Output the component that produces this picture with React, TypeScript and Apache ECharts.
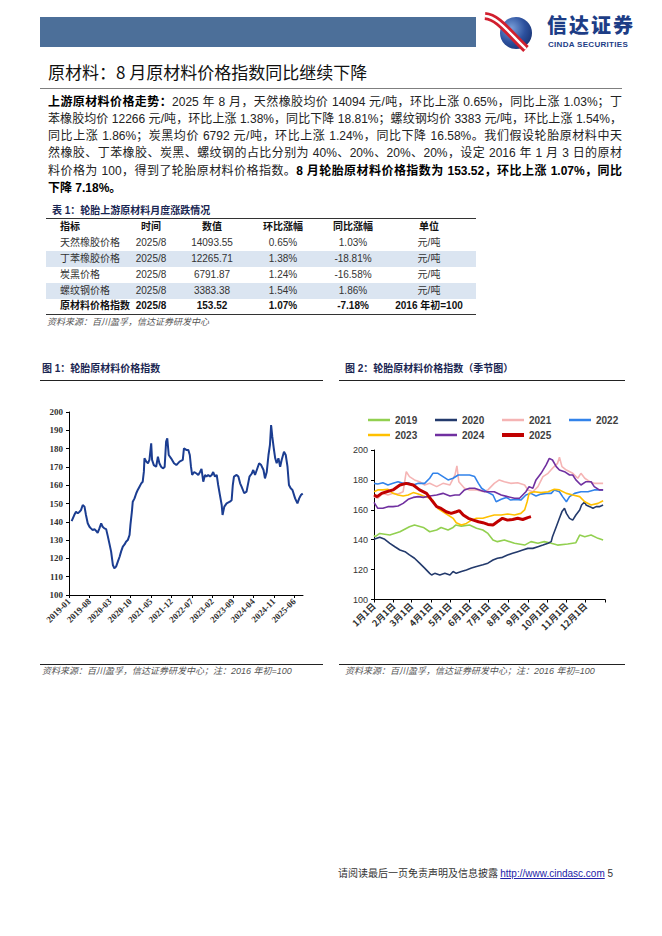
import React, { useEffect, useRef } from "react";
import * as echarts from "echarts";

// ---------- Data ----------
// Figure 1: tyre raw material price index, [months since 2019-01, index]
const idxPoints: [number, number][] = [
  [0.9, 140.4], [1.8, 143.7], [2.4, 145.5], [3.0, 144.6], [3.6, 145.5], [4.1, 146.4], [4.7, 149.2], [5.3, 148.3],
  [5.8, 143.7], [6.4, 139.2], [7.0, 137.3], [7.5, 136.4], [8.1, 135.5], [8.7, 136.0], [9.3, 135.0], [9.8, 134.0],
  [10.4, 136.4], [11.0, 139.2], [11.5, 137.3], [12.1, 136.4], [12.7, 136.0], [13.3, 131.9], [13.8, 128.2], [14.4, 123.7],
  [15.0, 116.4], [15.5, 114.6], [16.1, 115.5], [16.7, 118.2], [17.3, 120.9], [17.8, 123.7], [18.4, 126.4], [19.0, 127.6],
  [19.5, 129.1], [20.1, 130.0], [20.7, 132.8], [21.0, 138.3], [21.5, 145.5], [21.8, 151.0], [22.4, 152.8], [23.0, 155.6],
  [23.5, 157.4], [24.1, 159.2], [24.7, 161.0], [25.2, 161.9], [25.6, 167.4], [25.8, 174.7], [26.4, 172.9], [27.0, 172.0],
  [27.5, 173.8], [28.1, 182.9], [28.4, 173.8], [29.0, 171.0], [29.8, 170.1], [30.4, 175.6], [30.9, 172.0], [31.5, 170.1],
  [32.1, 169.2], [32.7, 170.0], [33.2, 183.8], [33.6, 185.6], [34.1, 176.5], [34.9, 174.7], [35.9, 172.0], [36.7, 171.0],
  [37.8, 172.9], [38.9, 173.8], [39.3, 180.2], [40.1, 179.3], [40.8, 179.2], [41.3, 176.5], [41.7, 170.1], [42.1, 165.6],
  [42.8, 167.2], [43.6, 166.4], [44.2, 165.6], [44.8, 167.2], [45.3, 168.9], [45.9, 161.9], [46.5, 165.6], [47.0, 164.7],
  [47.6, 165.6], [48.2, 164.7], [48.8, 165.6], [49.3, 167.2], [49.9, 164.7], [50.5, 165.6], [51.0, 160.1], [51.6, 154.6],
  [52.2, 149.2], [52.5, 143.7], [53.1, 148.3], [53.9, 150.1], [55.0, 151.0], [55.6, 151.8], [56.0, 160.1], [56.4, 164.7],
  [57.3, 165.6], [57.9, 164.7], [58.5, 161.0], [59.0, 159.2], [59.9, 155.6], [60.7, 156.5], [61.7, 164.7], [62.5, 166.4],
  [63.0, 168.3], [63.6, 165.6], [64.2, 168.3], [65.0, 172.0], [65.7, 171.0], [66.5, 168.3], [67.0, 163.7], [67.6, 167.2],
  [68.2, 176.5], [68.7, 182.0], [69.1, 192.9], [69.5, 186.5], [70.0, 180.2], [70.5, 174.7], [71.0, 172.0], [71.6, 174.7],
  [72.2, 170.1], [72.7, 173.8], [73.5, 178.3], [74.1, 176.5], [74.7, 170.1], [75.2, 160.1], [75.8, 158.3], [76.4, 157.4],
  [77.3, 152.8], [78.1, 150.1], [78.7, 152.8], [79.3, 154.6], [79.9, 155.5],
];
const idxTickLabels = [
  "2019-01", "2019-08", "2020-03", "2020-10", "2021-05", "2021-12",
  "2022-07", "2023-02", "2023-09", "2024-04", "2024-11", "2025-06",
];

// Figure 2: seasonal chart, [day of year, index]
const seasonNames = ["2019", "2020", "2021", "2022", "2023", "2024", "2025"];
const s2019: [number, number][] = [
  [0, 143], [2, 142], [9, 144.2], [25, 143.1], [41, 145.3], [56, 148.7], [64, 149.8], [78, 148.2], [88, 145.3],
  [99, 146.5], [106, 148.2], [117, 146.5], [125, 148.2], [129, 149.8], [138, 149.1], [151, 149.8], [162, 147.6],
  [172, 146.5], [180, 144.2], [188, 139.8], [195, 138.7], [206, 139.8], [222, 137.6], [238, 136.4], [248, 138.7],
  [259, 137.6], [269, 138.7], [280, 137.6], [290, 136.4], [306, 137.1], [319, 138], [325, 143.1], [333, 142],
  [343, 143.1], [354, 140.9], [362, 139.8],
];
const s2020: [number, number][] = [
  [0, 140.3], [9, 141.6], [17, 140.3], [25, 137.6], [33, 135.3], [41, 133.1], [49, 132], [56, 129.8], [64, 127.6],
  [72, 124.3], [80, 121], [88, 117.5], [91, 116.4], [96, 117.5], [104, 116.4], [112, 117.5], [120, 116.4],
  [125, 118.7], [130, 117.5], [138, 118.7], [146, 119.8], [154, 121], [162, 122.1], [172, 123.2], [180, 124.3],
  [188, 126.4], [195, 127.6], [203, 128.2], [211, 129.8], [219, 130.9], [227, 132], [235, 133.1], [243, 134.2],
  [251, 134.2], [259, 135.3], [267, 136.4], [275, 137.6], [280, 138.7], [282, 142], [288, 148.7], [293, 154.3],
  [297, 158.8], [301, 161], [304, 157.6], [309, 154.3], [314, 153.1], [319, 156.5], [325, 159.9], [328, 163.2],
  [333, 165.4], [335, 163.2], [341, 162.1], [346, 161], [351, 162.1], [356, 162.1], [362, 163.2],
];
const s2021: [number, number][] = [
  [0, 168.8], [6, 167.7], [14, 171], [22, 169.9], [30, 171], [38, 170.6], [46, 172.1], [51, 185.5], [56, 182.2],
  [64, 180], [72, 178.8], [80, 176.6], [88, 177.7], [99, 175.5], [109, 177.7], [120, 176.6], [128, 183.3],
  [131, 189.4], [134, 178.8], [143, 174.4], [151, 173.3], [162, 173.3], [172, 172.2], [180, 173.3], [190, 177.7],
  [198, 180], [206, 178.8], [216, 177.7], [227, 178.1], [238, 176.6], [243, 173.3], [251, 172.1], [259, 175.5],
  [267, 182.2], [275, 184.4], [282, 187.8], [290, 191.1], [293, 195.1], [297, 188.9], [304, 186.6], [314, 184.4],
  [322, 181.1], [327, 184.4], [333, 181.1], [341, 178.8], [348, 177.7], [362, 177.7],
];
const s2022: [number, number][] = [
  [0, 177.7], [6, 177.3], [14, 178.1], [22, 176.6], [30, 177.7], [38, 178.8], [46, 177.7], [54, 178.1], [62, 176.6],
  [70, 177.7], [80, 177.7], [88, 181.1], [93, 184.4], [101, 184.4], [109, 182.2], [117, 180], [125, 181.1],
  [133, 183.3], [141, 183.3], [151, 183.3], [159, 182.2], [165, 177.7], [170, 174.4], [178, 172.1], [183, 171],
  [188, 169.9], [193, 165.4], [201, 167], [209, 168.3], [216, 166.5], [224, 167], [232, 166.5], [240, 169.9],
  [248, 171], [256, 169.2], [264, 170.5], [272, 171], [280, 171], [285, 173.3], [293, 172.1], [298, 168.8],
  [304, 165.4], [309, 168.8], [317, 171], [327, 172.1], [338, 172.1], [348, 173.3], [362, 173.3],
];
const s2023: [number, number][] = [
  [0, 172.1], [6, 173.3], [14, 173.3], [22, 173.7], [30, 171], [38, 169.9], [46, 169.2], [54, 169.9], [62, 171.5],
  [70, 170.5], [78, 169.2], [85, 168.3], [93, 166.5], [101, 160.9], [109, 158.7], [117, 156.5], [125, 154.3],
  [130, 151.4], [138, 149.8], [146, 150.9], [154, 153.1], [162, 154.3], [172, 154.3], [180, 155.4], [190, 156.5],
  [201, 156.5], [211, 157.2], [222, 156.5], [232, 157.6], [238, 159.9], [242, 165.4], [245, 171], [253, 172.1],
  [264, 171.5], [275, 172.1], [285, 173.7], [293, 173.3], [304, 171], [314, 169.9], [325, 168.8], [333, 165.4],
  [343, 163.2], [354, 164.3], [362, 166.1],
];
const s2024: [number, number][] = [
  [0, 165], [6, 161], [14, 161], [22, 162.1], [30, 162.1], [38, 162.5], [46, 164.3], [54, 167], [62, 168.3],
  [70, 168.8], [78, 168.3], [88, 169.2], [99, 169.9], [109, 171], [120, 169.2], [128, 169.9], [135, 169.9],
  [143, 173.3], [151, 174.4], [159, 174.4], [167, 173.3], [175, 172.1], [183, 172.1], [190, 172.1], [201, 169.9],
  [211, 168.8], [222, 167.7], [230, 167.7], [235, 169.9], [240, 172.1], [245, 175.5], [251, 174.4], [256, 180],
  [264, 184.4], [272, 190], [277, 194.4], [282, 193.3], [288, 188.9], [293, 186.6], [301, 185.5], [309, 183.3],
  [314, 183.3], [319, 180], [327, 176.6], [335, 178.8], [343, 178.8], [348, 175.5], [356, 173.3], [362, 173.3],
];
const s2025: [number, number][] = [
  [0, 169.9], [5, 168.8], [12, 171], [20, 172.1], [30, 173.3], [41, 176.6], [51, 177.7], [62, 176.6], [72, 173.3],
  [83, 171], [91, 166.5], [99, 162.1], [106, 160.9], [114, 158.7], [122, 157.6], [130, 158.7], [135, 159.4],
  [141, 156.5], [149, 154.3], [157, 153.1], [165, 152], [172, 151.4], [180, 150.2], [188, 149.8], [195, 152],
  [203, 154.3], [211, 153.1], [219, 153.5], [227, 154.3], [235, 153.5], [243, 154.8], [248, 155.4],
];
const seasonData = [s2019, s2020, s2021, s2022, s2023, s2024, s2025];
const monthStartDays = [0, 31, 59, 90, 120, 151, 181, 212, 243, 273, 304, 334];
const monthLabels = [
  "1月1日", "2月1日", "3月1日", "4月1日", "5月1日", "6月1日",
  "7月1日", "8月1日", "9月1日", "10月1日", "11月1日", "12月1日",
];

// Table 1
const tableHeaders = ["指标", "时间", "数值", "环比涨幅", "同比涨幅", "单位"];
const tableRows = [
  ["天然橡胶价格", "2025/8", "14093.55", "0.65%", "1.03%", "元/吨"],
  ["丁苯橡胶价格", "2025/8", "12265.71", "1.38%", "-18.81%", "元/吨"],
  ["炭黑价格", "2025/8", "6791.87", "1.24%", "-16.58%", "元/吨"],
  ["螺纹钢价格", "2025/8", "3383.38", "1.54%", "1.86%", "元/吨"],
  ["原材料价格指数", "2025/8", "153.52", "1.07%", "-7.18%", "2016 年初=100"],
];

// ---------- Styles ----------
const seasonColors = ["#92d050", "#233a6c", "#f5b4b4", "#3283ea", "#ffc000", "#7030a0", "#c00000"];
const SANS = '"Liberation Sans", "Noto Sans CJK SC", sans-serif';
const CJK = '"Noto Sans CJK SC", "Liberation Sans", sans-serif';

function Chart1() {
  const ref = useRef<HTMLDivElement>(null);
  useEffect(() => {
    const chart = echarts.init(ref.current!, null, { renderer: "svg" });
    const lbl = {
      fontFamily: '"Liberation Serif", serif',
      fontWeight: "bold" as const,
      fontSize: 9,
      color: "#333",
    };
    chart.setOption({
      animation: false,
      grid: { left: 29, top: 27, width: 234, height: 183 },
      xAxis: {
        type: "value",
        min: 0,
        max: 80,
        interval: 7,
        axisLine: { lineStyle: { color: "#000", width: 1 } },
        axisTick: { show: true, length: 3, lineStyle: { color: "#000" } },
        splitLine: { show: false },
        axisLabel: {
          ...lbl,
          rotate: 45,
          margin: 5,
          showMaxLabel: false,
          formatter: (v: number) => (v % 7 === 0 ? idxTickLabels[v / 7] ?? "" : ""),
        },
      },
      yAxis: {
        type: "value",
        min: 100,
        max: 200,
        interval: 10,
        axisLine: { show: true, lineStyle: { color: "#000", width: 1 } },
        axisTick: { show: true, length: 3, lineStyle: { color: "#000" } },
        splitLine: { show: false },
        axisLabel: { ...lbl, margin: 6 },
      },
      series: [
        {
          type: "line",
          data: idxPoints,
          symbol: "none",
          lineStyle: { color: "#1b3d91", width: 2 },
        },
      ],
    });
    return () => chart.dispose();
  }, []);
  return <div ref={ref} style={{ position: "absolute", left: 40, top: 385, width: 285, height: 275 }} />;
}

function Chart2() {
  const ref = useRef<HTMLDivElement>(null);
  useEffect(() => {
    const chart = echarts.init(ref.current!, null, { renderer: "svg" });
    const legendText = { fontSize: 10, fontWeight: "bold" as const, color: "#404040", fontFamily: SANS };
    const legends = seasonNames.map((name, i) => ({
      top: i < 4 ? 15 : 30,
      left: 28 + (i % 4) * 67,
      icon: "rect",
      itemWidth: 22,
      itemHeight: name === "2025" ? 4 : 2.5,
      textStyle: legendText,
      data: [name],
    }));
    chart.setOption({
      animation: false,
      legend: legends,
      grid: { left: 39, top: 55, width: 231, height: 149.5 },
      xAxis: {
        type: "value",
        min: 0,
        max: 365,
        axisLine: { lineStyle: { color: "#000", width: 1 } },
        axisTick: { show: true, length: 3, customValues: [...monthStartDays, 365], lineStyle: { color: "#000" } },
        splitLine: { show: false },
        axisLabel: {
          customValues: monthStartDays,
          rotate: 45,
          margin: 5,
          fontSize: 9,
          fontWeight: "bold",
          color: "#333",
          fontFamily: CJK,
          formatter: (v: number) => {
            const i = monthStartDays.indexOf(v);
            return i >= 0 ? monthLabels[i] : "";
          },
        },
      },
      yAxis: {
        type: "value",
        min: 100,
        max: 200,
        interval: 20,
        axisLine: { show: true, lineStyle: { color: "#000", width: 1 } },
        axisTick: { show: true, length: 3, lineStyle: { color: "#000" } },
        splitLine: { show: false },
        axisLabel: { fontSize: 9, color: "#333", fontFamily: SANS, margin: 6 },
      },
      series: seasonNames.map((name, i) => ({
        name,
        type: "line",
        data: seasonData[i],
        symbol: "none",
        lineStyle: { color: seasonColors[i], width: name === "2025" ? 3 : 1.6 },
        itemStyle: { color: seasonColors[i] },
        z: name === "2025" ? 5 : 2,
      })),
    });
    return () => chart.dispose();
  }, []);
  return <div ref={ref} style={{ position: "absolute", left: 335, top: 395, width: 290, height: 265 }} />;
}

type Seg = { t: string; b?: boolean };
const paraLines: Seg[][] = [
  [{ t: "上游原材料价格走势：", b: true }, { t: "2025 年 8 月，天然橡胶均价 14094 元/吨，环比上涨 0.65%，同比上涨 1.03%；丁" }],
  [{ t: "苯橡胶均价 12266 元/吨，环比上涨 1.38%，同比下降 18.81%；螺纹钢均价 3383 元/吨，环比上涨 1.54%，" }],
  [{ t: "同比上涨 1.86%；炭黑均价 6792 元/吨，环比上涨 1.24%，同比下降 16.58%。我们假设轮胎原材料中天" }],
  [{ t: "然橡胶、丁苯橡胶、炭黑、螺纹钢的占比分别为 40%、20%、20%、20%，设定 2016 年 1 月 3 日的原材" }],
  [{ t: "料价格为 100，得到了轮胎原材料价格指数。" }, { t: "8 月轮胎原材料价格指数为 153.52，环比上涨 1.07%，同比", b: true }],
  [{ t: "下降 7.18%。", b: true }],
];

const abs = (left: number, top: number, extra: React.CSSProperties = {}): React.CSSProperties => ({
  position: "absolute",
  left,
  top,
  ...extra,
});

export default function App() {
  const colCenters = [0, 151, 212, 283, 353, 429];
  const rowCenters = [243, 259, 275, 290.5, 306];
  return (
    <div style={{ position: "absolute", left: 0, top: 0, width: 662, height: 936, background: "#fff", fontFamily: SANS, color: "#222", overflow: "hidden" }}>
      {/* header */}
      <div style={abs(40, 17, { width: 436, height: 30, background: "#4c6f99" })} />
      <svg style={abs(482, 12)} width={60} height={40} viewBox="0 0 60 40">
        <defs>
          <radialGradient id="lg" cx="0.35" cy="0.35" r="0.8">
            <stop offset="0" stopColor="#7aa0da" />
            <stop offset="0.55" stopColor="#2d519e" />
            <stop offset="1" stopColor="#152d6b" />
          </radialGradient>
        </defs>
        <circle cx={34} cy={21} r={16} fill="url(#lg)" />
        <path d="M3 4 C 16 5, 26 20, 44 37" stroke="#d11f2e" strokeWidth={8} fill="none" />
        <path d="M3 4 C 16 5, 26 20, 44 37" stroke="#ffffff" strokeWidth={2.4} fill="none" />
      </svg>
      <div style={abs(547, 14, { fontFamily: CJK, fontWeight: 900, fontSize: 20, lineHeight: "22px", height: 22, color: "#1d3d86", letterSpacing: 2, whiteSpace: "nowrap" })}>信达证券</div>
      <div style={abs(548, 41, { fontFamily: SANS, fontWeight: "bold", fontSize: 8, lineHeight: "8px", color: "#1d3d86", whiteSpace: "nowrap", letterSpacing: 0.3 })}>CINDA SECURITIES</div>

      {/* section title */}
      <div style={abs(48, 61, { fontFamily: CJK, fontSize: 17, lineHeight: "22px", color: "#111" })}>原材料：8 月原材料价格指数同比继续下降</div>
      <div style={abs(40, 88, { width: 582, height: 1, background: "#7f7f7f" })} />

      {/* paragraph */}
      {paraLines.map((segs, i) => (
        <div
          key={i}
          style={abs(48, 93.5 + i * 17.3, {
            width: i === paraLines.length - 1 ? undefined : 574,
            fontSize: 12,
            lineHeight: "17px",
            whiteSpace: "nowrap",
            textAlign: "justify",
            textAlignLast: i === paraLines.length - 1 ? "left" : "justify",
            color: "#222",
          })}
        >
          {segs.map((s, j) => (
            <span key={j} style={{ fontWeight: s.b ? "bold" : "normal", color: s.b ? "#000" : "#222" }}>{s.t}</span>
          ))}
        </div>
      ))}

      {/* table */}
      <div style={abs(52, 204, { fontSize: 10, fontWeight: "bold", lineHeight: "14px", color: "#1a2652" })}>表 1：轮胎上游原材料月度涨跌情况</div>
      <div style={abs(46, 218, { width: 430, height: 1.3, background: "#333" })} />
      <div style={abs(46, 251, { width: 430, height: 16, background: "#dbe5f1" })} />
      <div style={abs(46, 282.5, { width: 430, height: 16, background: "#dbe5f1" })} />
      <div style={abs(46, 313.5, { width: 430, height: 1.2, background: "#333" })} />
      {tableHeaders.map((h, c) => (
        <div
          key={"h" + c}
          style={abs(c === 0 ? 60 : colCenters[c] - 45, 220, {
            width: c === 0 ? 100 : 90,
            textAlign: c === 0 ? "left" : "center",
            fontSize: 10,
            fontWeight: "bold",
            lineHeight: "14px",
            color: "#111",
          })}
        >
          {h}
        </div>
      ))}
      {tableRows.map((row, r) =>
        row.map((cell, c) => (
          <div
            key={r + "-" + c}
            style={abs(c === 0 ? 60 : colCenters[c] - 45, rowCenters[r] - 7, {
              width: c === 0 ? 100 : 90,
              textAlign: c === 0 ? "left" : "center",
              fontSize: 10,
              lineHeight: "14px",
              fontWeight: r === tableRows.length - 1 ? "bold" : "normal",
              color: r === tableRows.length - 1 ? "#111" : "#333",
            })}
          >
            {cell}
          </div>
        ))
      )}
      <div style={abs(47, 316, { fontSize: 9, fontStyle: "italic", lineHeight: "12px", color: "#555" })}>资料来源：百川盈孚，信达证券研发中心</div>

      {/* figure titles */}
      <div style={abs(42, 362, { fontSize: 10, fontWeight: "bold", lineHeight: "14px", color: "#1a2652" })}>图 1：轮胎原材料价格指数</div>
      <div style={abs(40, 379.5, { width: 283, height: 1.5, background: "#222" })} />
      <div style={abs(345, 362, { fontSize: 10, fontWeight: "bold", lineHeight: "14px", color: "#1a2652" })}>图 2：轮胎原材料价格指数（季节图）</div>
      <div style={abs(339, 379.5, { width: 286, height: 1.5, background: "#222" })} />

      <Chart1 />
      <Chart2 />

      {/* sources */}
      <div style={abs(40, 663.5, { width: 283, height: 1.5, background: "#222" })} />
      <div style={abs(339, 663.5, { width: 286, height: 1.5, background: "#222" })} />
      <div style={abs(42, 665, { fontSize: 9, fontStyle: "italic", lineHeight: "12px", color: "#555" })}>资料来源：百川盈孚，信达证券研发中心；注：2016 年初=100</div>
      <div style={abs(345, 665, { fontSize: 9, fontStyle: "italic", lineHeight: "12px", color: "#555" })}>资料来源：百川盈孚，信达证券研发中心；注：2016 年初=100</div>

      {/* footer */}
      <div style={abs(338, 866, { fontSize: 10, lineHeight: "14px", color: "#333", whiteSpace: "nowrap" })}>
        <span style={{ fontFamily: CJK }}>请阅读最后一页免责声明及信息披露 </span>
        <span style={{ color: "#2323a8", textDecoration: "underline" }}>http://www.cindasc.com</span>
        <span> 5</span>
      </div>
    </div>
  );
}
